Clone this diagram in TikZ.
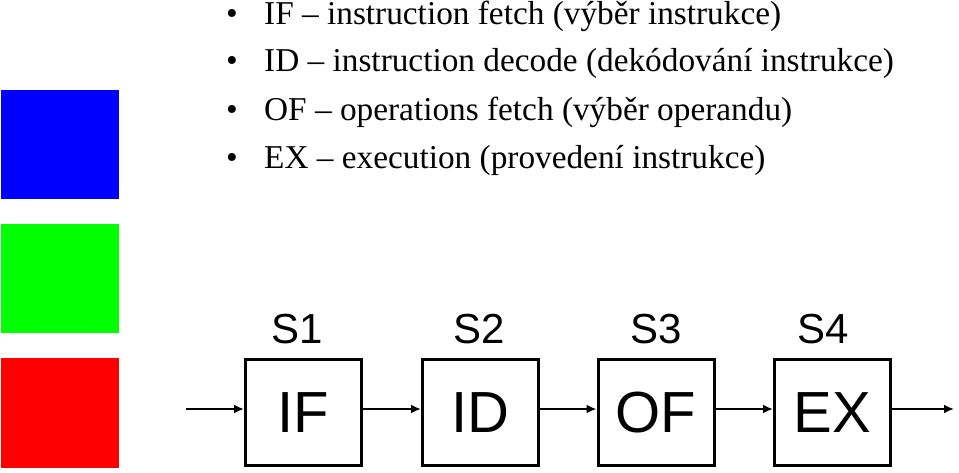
\documentclass[tikz,border=0pt]{standalone}
\usepackage{fontspec}
\setmainfont{Liberation Serif}
\newfontfamily\arialfont{Liberation Sans}
\usetikzlibrary{arrows.meta}
\begin{document}
\begin{tikzpicture}[x=1pt,y=-1pt,
  stagebox/.style={draw=black,line width=3pt,minimum width=116pt,minimum height=106pt,inner sep=0pt,font=\arialfont\fontsize{58}{58}\selectfont},
  stagelabel/.style={anchor=base,inner sep=0pt,font=\arialfont\fontsize{42}{42}\selectfont},
  flow/.style={line width=2pt,-{Latex[length=10pt,width=9pt]}},
  bullettext/.style={anchor=base west,inner sep=0pt,font=\fontsize{33.3}{33.3}\selectfont},
  bulletdot/.style={anchor=base,inner sep=0pt,font=\fontsize{33.3}{33.3}\selectfont}]
\useasboundingbox (0,0) rectangle (959,473);
% colour squares
\fill[blue] (1,90) rectangle (119,199);
\fill[green] (1,224) rectangle (119,333);
\fill[red] (1,358) rectangle (119,468);
% bullets
\node[bulletdot] (b1) at (232,25) {\textbullet};
\node[bullettext] (t1) at (264,25) {IF -- instruction fetch (výběr instrukce)};
\node[bulletdot] (b2) at (232,72) {\textbullet};
\node[bullettext] (t2) at (264,72) {ID -- instruction decode (dekódování instrukce)};
\node[bulletdot] (b3) at (232,121) {\textbullet};
\node[bullettext] (t3) at (264,121) {OF -- operations fetch (výběr operandu)};
\node[bulletdot] (b4) at (232,169) {\textbullet};
\node[bullettext] (t4) at (264,169) {EX -- execution (provedení instrukce)};
% stage labels
\node[stagelabel] (s1) at (297,343) {S1};
\node[stagelabel] (s2) at (479,343) {S2};
\node[stagelabel] (s3) at (656,343) {S3};
\node[stagelabel] (s4) at (823,343) {S4};
% stage boxes
\node[stagebox] (if) at (303.5,412.5) {IF};
\node[stagebox] (id) at (480.5,412.5) {ID};
\node[stagebox] (of) at (656,412.5) {OF};
\node[stagebox] (ex) at (832.5,412.5) {EX};
\coordinate (in) at (186,409);
\coordinate (out) at (954,409);
\draw[flow] (in) -- (in -| if.west);
\draw[flow] (if.east |- in) -- (in -| id.west);
\draw[flow] (id.east |- in) -- (in -| of.west);
\draw[flow] (of.east |- in) -- (in -| ex.west);
\draw[flow] (ex.east |- in) -- (out);
\end{tikzpicture}
\end{document}
